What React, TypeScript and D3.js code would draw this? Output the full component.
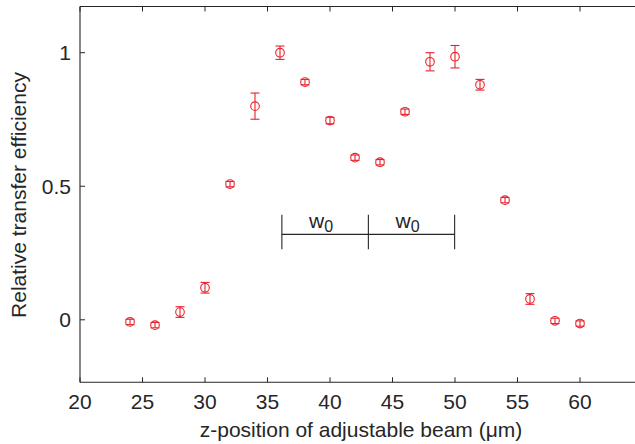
import React from "react";
import * as d3 from "d3";

const zPositions = [24, 26, 28, 30, 32, 34, 36, 38, 40, 42, 44, 46, 48, 50, 52, 54, 56, 58, 60];
const efficiency = [-0.008, -0.02, 0.029, 0.12, 0.508, 0.8, 1.0, 0.89, 0.746, 0.607, 0.59, 0.779, 0.966, 0.985, 0.88, 0.448, 0.078, -0.004, -0.014];
const errors = [0.01, 0.01, 0.02, 0.02, 0.01, 0.049, 0.025, 0.01, 0.012, 0.01, 0.01, 0.01, 0.034, 0.042, 0.02, 0.01, 0.02, 0.01, 0.01];
const xTicks = [20, 25, 30, 35, 40, 45, 50, 55, 60];
const yTicks = [0, 0.5, 1];
const yTickLabels = ["0", "0.5", "1"];
const beamMarks = [36.15, 43.07, 49.97];
const beamLevel = 0.32;

const W = 635, H = 444;
const left = 80, right = 633, top = 6.5, bottom = 382.3;
const red = "#e8212b";
const ink = "#262626";
const font = "'Liberation Sans', Arial, Helvetica, sans-serif";

export default function App() {
  const x = d3.scaleLinear().domain([20, 20 + (right - left) / 12.5]).range([left, right]);
  const y = d3.scaleLinear().domain([-0.234, 1.173]).range([bottom, top]);
  const cap = 4.5;
  const r = 4.3;
  return (
    <svg width={W} height={H} style={{ position: "absolute", left: 0, top: 0, background: "#fff" }} fontFamily={font}>
      {/* axes */}
      <line x1={left} x2={right + 2} y1={top} y2={top} stroke={ink} strokeWidth={1.1} />
      <line x1={left} x2={right + 2} y1={bottom} y2={bottom} stroke={ink} strokeWidth={1.1} />
      <line x1={left} x2={left} y1={top} y2={bottom} stroke={ink} strokeWidth={1.1} />
      {xTicks.map((t) => (
        <g key={"xt" + t}>
          <line x1={x(t)} x2={x(t)} y1={bottom} y2={bottom - 5} stroke={ink} strokeWidth={1} />
          <line x1={x(t)} x2={x(t)} y1={top} y2={top + 5} stroke={ink} strokeWidth={1} />
          <text x={x(t)} y={408.5} textAnchor="middle" fontSize={21} fill={ink}>{t}</text>
        </g>
      ))}
      {yTicks.map((t, i) => (
        <g key={"yt" + t}>
          <line x1={left} x2={left + 5} y1={y(t)} y2={y(t)} stroke={ink} strokeWidth={1} />
          <text x={71} y={y(t) + 7.5} textAnchor="end" fontSize={21} fill={ink}>{yTickLabels[i]}</text>
        </g>
      ))}
      <text x={(197.7 + 524.3) / 2} y={437} textAnchor="middle" fontSize={21} fill={ink}>z-position of adjustable beam (μm)</text>
      <text transform={`translate(25.5,195) rotate(-90)`} textAnchor="middle" fontSize={21} fill={ink}>Relative transfer efficiency</text>
      {/* beam width annotation */}
      <line x1={x(beamMarks[0])} x2={x(beamMarks[2])} y1={y(beamLevel)} y2={y(beamLevel)} stroke={ink} strokeWidth={1.1} />
      {beamMarks.map((b) => (
        <line key={"bm" + b} x1={x(b)} x2={x(b)} y1={y(beamLevel) - 19.5} y2={y(beamLevel) + 15} stroke={ink} strokeWidth={1.1} />
      ))}
      {[0, 1].map((i) => (
        <text key={"w" + i} x={(x(beamMarks[i]) + x(beamMarks[i + 1])) / 2 - 4} y={228} textAnchor="middle" fontSize={21} fill={ink}>
          w<tspan fontSize={16} dy={4}>0</tspan>
        </text>
      ))}
      {/* data */}
      {zPositions.map((z, i) => {
        const cx = x(z);
        const cy = y(efficiency[i]);
        const y1 = y(efficiency[i] + errors[i]);
        const y2 = y(efficiency[i] - errors[i]);
        return (
          <g key={"p" + z} stroke={red} strokeWidth={1.1} fill="none">
            <line x1={cx} x2={cx} y1={y1} y2={y2} />
            <line x1={cx - cap} x2={cx + cap} y1={y1} y2={y1} />
            <line x1={cx - cap} x2={cx + cap} y1={y2} y2={y2} />
            <circle cx={cx} cy={cy} r={r} />
          </g>
        );
      })}
    </svg>
  );
}
